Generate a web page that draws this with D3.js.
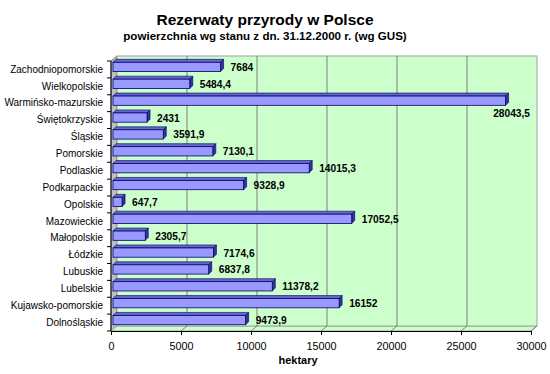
<!DOCTYPE html>
<html>
<head>
<meta charset="utf-8">
<script src="https://cdn.jsdelivr.net/npm/d3@7"></script>
<style>
  body { margin: 0; background: #fff; }
  svg { font-family: "Liberation Sans", Arial, sans-serif; }
  .tick text { fill: #000; }
  .xaxis .tick text { font-size: 10.8px; }
  .yaxis .tick text { font-size: 10px; }
</style>
</head>
<body>
<svg class="chart" width="550" height="374"></svg>
<script>
// regions, top to bottom as shown
const regions = ["Zachodniopomorskie", "Wielkopolskie", "Warmińsko-mazurskie", "Świętokrzyskie",
  "Śląskie", "Pomorskie", "Podlaskie", "Podkarpackie", "Opolskie", "Mazowieckie", "Małopolskie",
  "Łódzkie", "Lubuskie", "Lubelskie", "Kujawsko-pomorskie", "Dolnośląskie"];
// area in hectares
const areas = [7684, 5484.4, 28043.5, 2431, 3591.9, 7130.1, 14015.3, 9328.9, 647.7, 17052.5,
  2305.7, 7174.6, 6837.8, 11378.2, 16152, 9473.9];
const xTicks = [0, 5000, 10000, 15000, 20000, 25000, 30000];

const data = regions.map((r, i) => ({ region: r, value: areas[i] }));

const svg = d3.select(".chart");

const pLeft = 111, pRight = 531, pTop = 61, pBottom = 331;
const depth = {dx: 6, dy: -5};   // wall depth
const x = d3.scaleLinear().domain([0, 30000]).range([pLeft, pRight]);
const y = d3.scaleBand().domain(regions).range([pTop, pBottom])
  .paddingInner(0.45).paddingOuter(0.225);

const fmt = v => String(v).replace(".", ",");

// titles
svg.append("text")
  .attr("x", 265).attr("y", 25)
  .attr("text-anchor", "middle")
  .style("font-size", "15.5px").style("font-weight", "bold")
  .text("Rezerwaty przyrody w Polsce");
svg.append("text")
  .attr("x", 265).attr("y", 40)
  .attr("text-anchor", "middle")
  .style("font-size", "11.6px").style("font-weight", "bold")
  .text("powierzchnia wg stanu z dn. 31.12.2000 r. (wg GUS)");

// side wall
svg.append("polygon")
  .attr("points", [[pLeft, pTop], [pLeft + depth.dx, pTop + depth.dy],
    [pLeft + depth.dx, pBottom + depth.dy], [pLeft, pBottom]].join(" "))
  .attr("fill", "#c0c0c0").attr("stroke", "#808080");

// floor
svg.append("polygon")
  .attr("points", [[pLeft, pBottom], [pLeft + depth.dx, pBottom + depth.dy],
    [pRight + depth.dx, pBottom + depth.dy], [pRight, pBottom]].join(" "))
  .attr("fill", "#ccffcc").attr("stroke", "#a0a0a0");

// back wall
svg.append("rect")
  .attr("x", pLeft + depth.dx).attr("y", pTop + depth.dy)
  .attr("width", pRight - pLeft).attr("height", pBottom - pTop)
  .attr("fill", "#ccffcc").attr("stroke", "#a0a0a0");

// gridlines on back wall and floor
const grid = svg.append("g").attr("stroke", "#808080");
grid.selectAll(".gw").data(xTicks.slice(1, -1)).enter().append("line")
  .attr("x1", d => x(d) + depth.dx).attr("x2", d => x(d) + depth.dx)
  .attr("y1", pTop + depth.dy).attr("y2", pBottom + depth.dy);
grid.selectAll(".gf").data(xTicks.slice(1)).enter().append("line")
  .attr("x1", d => x(d)).attr("y1", pBottom)
  .attr("x2", d => x(d) + depth.dx).attr("y2", pBottom + depth.dy);

// bars (3D look)
const bx = 2, by = -2.5, bd = {dx: 3, dy: -3};
const bars = svg.selectAll(".bar").data(data).enter().append("g").attr("class", "bar");
const x0 = x(0) + bx;
bars.append("polygon")   // top face
  .attr("points", d => {
    const yt = y(d.region) + by, xe = x(d.value) + bx;
    return [[x0, yt], [x0 + bd.dx, yt + bd.dy], [xe + bd.dx, yt + bd.dy], [xe, yt]].join(" ");
  })
  .attr("fill", "#6666cc").attr("stroke", "#000066").attr("stroke-width", 0.6);
bars.append("polygon")   // end face
  .attr("points", d => {
    const yt = y(d.region) + by, xe = x(d.value) + bx, h = y.bandwidth();
    return [[xe, yt], [xe + bd.dx, yt + bd.dy], [xe + bd.dx, yt + h + bd.dy], [xe, yt + h]].join(" ");
  })
  .attr("fill", "#333399").attr("stroke", "#000066").attr("stroke-width", 0.6);
bars.append("rect")      // front face
  .attr("x", x0)
  .attr("y", d => y(d.region) + by)
  .attr("width", d => x(d.value) - x(0))
  .attr("height", y.bandwidth())
  .attr("fill", "#9999ff").attr("stroke", "#000066").attr("stroke-width", 0.8);

// value labels
bars.append("text")
  .style("font-size", "10.2px").style("font-weight", "bold")
  .each(function(d) {
    const t = d3.select(this).text(fmt(d.value));
    const w = this.getComputedTextLength();
    const xe = x(d.value) + bx + bd.dx;
    const yc = y(d.region) + by + y.bandwidth() / 2;
    if (xe + 7 + w > pRight + depth.dx) {
      // no room: put it under the bar end
      t.attr("x", xe + 3).attr("y", yc + 16).attr("text-anchor", "middle");
    } else {
      t.attr("x", xe + 7).attr("y", yc + 4);
    }
  });

// x axis
const xAxis = svg.append("g")
  .attr("class", "xaxis")
  .attr("transform", "translate(0," + pBottom + ")")
  .call(d3.axisBottom(x).tickValues(xTicks).tickFormat(d3.format("d"))
    .tickSize(4).tickSizeOuter(0).tickPadding(7));
xAxis.select(".domain").attr("stroke", "#000");

svg.append("text")
  .attr("x", 298).attr("y", 364)
  .attr("text-anchor", "middle")
  .style("font-size", "11px").style("font-weight", "bold")
  .text("hektary");

// y axis
const yAxis = svg.append("g")
  .attr("class", "yaxis")
  .attr("transform", "translate(" + pLeft + ",0)")
  .call(d3.axisLeft(y).tickSize(0).tickPadding(8));
yAxis.select(".domain").remove();
svg.append("line")
  .attr("x1", pLeft).attr("x2", pLeft).attr("y1", pTop).attr("y2", pBottom)
  .attr("stroke", "#000");
const step = (pBottom - pTop) / regions.length;
svg.selectAll(".ytick").data(d3.range(regions.length + 1)).enter().append("line")
  .attr("x1", pLeft - 4).attr("x2", pLeft)
  .attr("y1", i => pTop + i * step).attr("y2", i => pTop + i * step)
  .attr("stroke", "#000");
</script>
</body>
</html>
